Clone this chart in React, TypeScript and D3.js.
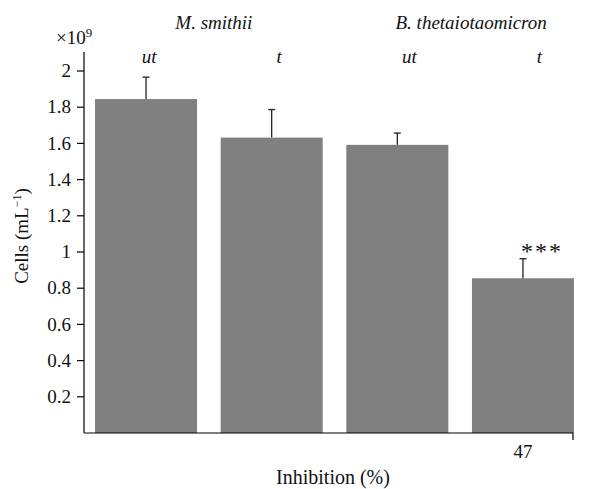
import React from 'react';
import * as d3 from 'd3';

const groups = ['M. smithii', 'B. thetaiotaomicron'];
const treatments = ['ut', 't', 'ut', 't'];
const cells = [1.845, 1.632, 1.592, 0.855];
const errors = [0.121, 0.155, 0.065, 0.108];
const inhibition = ['', '', '', '47'];
const stars = ['', '', '', '***'];
const yTicks = [0.2, 0.4, 0.6, 0.8, 1, 1.2, 1.4, 1.6, 1.8, 2];

const W = 603;
const H = 489;
const fs = 19;
const txt = { fontFamily: '"Liberation Serif"' };

const App = () => {
  const x0 = 84;
  const x1 = 573;
  const y = d3.scaleLinear().domain([0, 2]).range([433, 71]);
  const x = d3.scaleBand<number>()
    .domain(d3.range(cells.length))
    .range([83.2, 585.8])
    .paddingInner(0.188)
    .paddingOuter(0.094);
  const bw = x.bandwidth();
  const cx = (i: number) => (x(i) as number) + bw / 2;

  return (
    <svg width={W} height={H} style={{ position: 'absolute', left: 0, top: 0 }}>
      <g fill="#111">
        {/* bars */}
        {cells.map((v, i) => (
          <rect key={i} x={x(i)} y={y(v)} width={bw} height={y(0) - y(v)} fill="#808080" />
        ))}
        {/* error bars */}
        {cells.map((v, i) => (
          <g key={'e' + i} stroke="#222" strokeWidth={1.3}>
            <line x1={cx(i)} x2={cx(i)} y1={y(v)} y2={y(v + errors[i])} />
            <line x1={cx(i) - 3.5} x2={cx(i) + 3.5} y1={y(v + errors[i])} y2={y(v + errors[i])} />
          </g>
        ))}
        {stars.map((s, i) => s ? (
          <text key={'s' + i} x={cx(i) + 19} y={y(cells[i] + errors[i])} textAnchor="middle"
            fontSize={24} letterSpacing={2} style={txt}>{s}</text>
        ) : null)}
        {/* y axis */}
        <line x1={x0} x2={x0} y1={52} y2={y(0)} stroke="#000" strokeWidth={1.2} />
        {yTicks.map(t => (
          <g key={t}>
            <line x1={x0 - 7} x2={x0} y1={y(t)} y2={y(t)} stroke="#000" strokeWidth={1.2} />
            <text x={x0 - 13} y={y(t)} dy="0.33em" textAnchor="end" fontSize={fs} style={txt}>{t}</text>
          </g>
        ))}
        <text x={56} y={44} fontSize={fs} style={txt}>×10<tspan dy={-7} fontSize={13}>9</tspan></text>
        <text transform={`translate(28,${236}) rotate(-90)`} textAnchor="middle" fontSize={fs} style={txt}>
          Cells (mL<tspan dy={-7} fontSize={12}>−1</tspan><tspan dy={7}>)</tspan>
        </text>
        {/* x axis */}
        <line x1={x0} x2={x1} y1={y(0)} y2={y(0)} stroke="#000" strokeWidth={1.2} />
        <line x1={x1} x2={x1} y1={y(0)} y2={y(0) + 7} stroke="#000" strokeWidth={1.2} />
        {inhibition.map((s, i) => s ? (
          <text key={'i' + i} x={cx(i)} y={458} textAnchor="middle" fontSize={fs} style={txt}>{s}</text>
        ) : null)}
        <text x={333} y={484} textAnchor="middle" fontSize={20} style={txt}>Inhibition (%)</text>
        {/* headers */}
        {groups.map((g, k) => (
          <text key={g} x={(cx(2 * k) + cx(2 * k + 1)) / 2 + 5 + 6 * k} y={29} textAnchor="middle"
            fontSize={fs} fontStyle="italic" style={txt}>{g}</text>
        ))}
        {treatments.map((t, i) => (
          <text key={'t' + i} x={cx(i) + 3 + 4.5 * i} y={63} textAnchor="middle"
            fontSize={fs} fontStyle="italic" style={txt}>{t}</text>
        ))}
      </g>
    </svg>
  );
};

export default App;
